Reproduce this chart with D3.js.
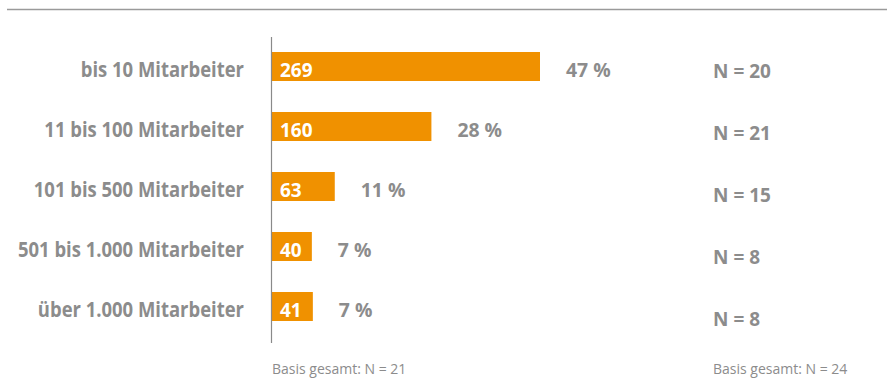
<!DOCTYPE html>
<html>
<head>
<meta charset="utf-8">
<script src="https://cdn.jsdelivr.net/npm/d3@7"></script>
<style>
  html, body { margin: 0; padding: 0; background: #fff; }
  svg { display: block; }
</style>
</head>
<body>
<svg id="chart" width="887" height="378"></svg>
<script>
// ── data ─────────────────────────────────────────────────
const categories = ['bis 10 Mitarbeiter', '11 bis 100 Mitarbeiter', '101 bis 500 Mitarbeiter',
                    '501 bis 1.000 Mitarbeiter', 'über 1.000 Mitarbeiter'];
const counts   = [269, 160, 63, 40, 41];
const percents = [47, 28, 11, 7, 7];
const nValues  = [20, 21, 15, 8, 8];
const footers  = ['Basis gesamt: N = 21', 'Basis gesamt: N = 24'];

const FONT   = "'Open Sans', sans-serif";
const GREY   = '#8c8c8c';
const ORANGE = '#f09100';

const svg = d3.select('#chart');

// ── top rule ─────────────────────────────────────────────
svg.append('line')
  .attr('x1', 7).attr('x2', 887).attr('y1', 9.5).attr('y2', 9.5)
  .attr('stroke', '#9a9a9a').attr('stroke-width', 1.5);

// ── scales ───────────────────────────────────────────────
const x = d3.scaleLinear().domain([0, 269]).range([272, 540]);
const y = d3.scaleBand().domain(categories).range([36.5, 336.5])
  .paddingInner(0.5167).paddingOuter(0.2583);
const yN = d3.scalePoint().domain(categories).range([77.5, 326]);

const rows = categories.map((c, i) => ({ cat: c, count: counts[i], pct: percents[i], n: nValues[i] }));

// ── bars ─────────────────────────────────────────────────
svg.selectAll('.bar').data(rows).enter().append('rect')
  .attr('class', 'bar')
  .attr('x', x(0))
  .attr('y', d => y(d.cat))
  .attr('width', d => x(d.count) - x(0))
  .attr('height', y.bandwidth())
  .attr('fill', ORANGE);

// axis line
svg.append('line')
  .attr('x1', 271.5).attr('x2', 271.5).attr('y1', 37).attr('y2', 343)
  .attr('stroke', '#8a8a8a').attr('stroke-width', 1.2);

const base = d => y(d.cat) + 25;

// condensed bold text: narrow the glyphs a bit, like the original face
function label(sel, tx, ty, size, sx) {
  return sel.append('g')
      .attr('transform', d => `translate(${tx(d)},${ty(d)}) scale(${sx},1)`)
    .append('text')
      .attr('font-family', FONT).attr('font-weight', 'bold').attr('font-size', size);
}

// category labels
label(svg.selectAll('.cat').data(rows).enter(), () => 244, base, 20.5, 0.9)
  .attr('text-anchor', 'end')
  .attr('fill', GREY)
  .text(d => d.cat);

// values inside bars
label(svg.selectAll('.val').data(rows).enter(), () => x(0) + 8, base, 20, 0.95)
  .attr('fill', '#fff')
  .text(d => d.count);

// percentages
label(svg.selectAll('.pct').data(rows).enter(), d => x(d.count) + 26, base, 20, 0.97)
  .attr('fill', GREY)
  .text(d => d.pct + ' %');

// N labels
label(svg.selectAll('.n').data(rows).enter(), () => 713, d => yN(d.cat), 20, 0.95)
  .attr('fill', GREY)
  .text(d => 'N = ' + d.n);

// footers
svg.selectAll('.foot').data(footers).enter().append('text')
  .attr('x', (d, i) => i === 0 ? 272 : 713).attr('y', 374)
  .attr('font-family', FONT).attr('font-size', 14)
  .attr('fill', GREY)
  .text(d => d);
</script>
</body>
</html>
